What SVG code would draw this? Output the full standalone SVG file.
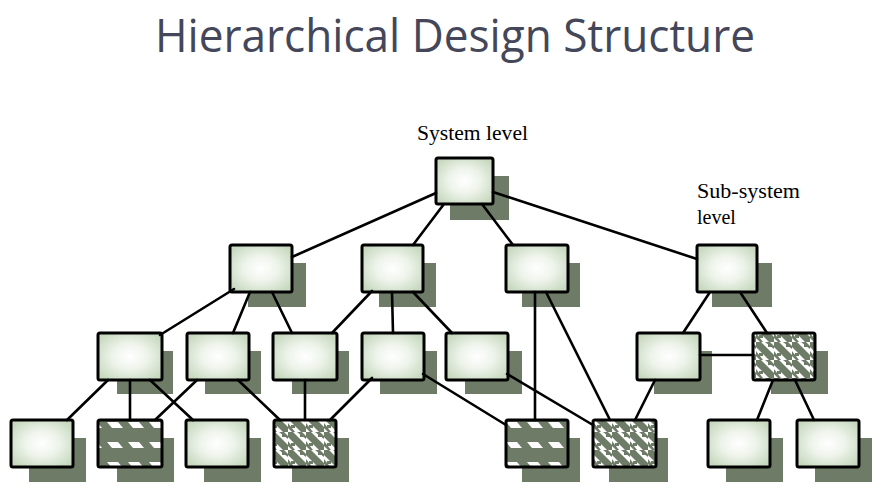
<svg xmlns="http://www.w3.org/2000/svg" width="891" height="496" viewBox="0 0 891 496">
<style>
.title{font-family:"Open Sans","Liberation Sans",sans-serif;font-size:46px;fill:#444759}
.lbl{font-family:"Liberation Serif","Times New Roman",serif;font-size:20px;fill:#000}
.sh{fill:#6d7b67}
.bx{fill:url(#g);stroke:#000;stroke-width:3}
.p1{fill:url(#pa);stroke:#000;stroke-width:3}
.p2{fill:url(#pb);stroke:#000;stroke-width:3}
#edges line{stroke:#000;stroke-width:2.6;stroke-linecap:round}
</style>
<defs>
<radialGradient id="g" cx="0.5" cy="0.5" r="0.6">
<stop offset="0" stop-color="#ffffff"/>
<stop offset="0.45" stop-color="#eef4eb"/>
<stop offset="1" stop-color="#c8d9c0"/>
</radialGradient>
<pattern id="pa" patternUnits="userSpaceOnUse" width="21" height="20" x="0" y="420">
<rect width="21" height="20" fill="#6d7b67"/>
<polygon points="2,2 13,2 18,8 7,8" fill="#fff"/>
</pattern>
<pattern id="pb" patternUnits="userSpaceOnUse" width="18" height="18">
<rect width="18" height="18" fill="#fff"/>
<polygon points="0,0 5,0 18,13 18,18 13,18 0,5" fill="#6d7b67"/>
<polygon points="9,0 14,0 18,4 18,7" fill="#6d7b67"/>
<polygon points="0,9 0,14 4,18 7,18" fill="#6d7b67"/>
<rect x="3" y="11" width="4" height="3" fill="#6d7b67"/>
<rect x="12" y="2" width="4" height="3" fill="#6d7b67"/>
</pattern>
</defs>
<rect width="891" height="496" fill="#fff"/>
<text class="title" x="455" y="52" text-anchor="middle" textLength="600" lengthAdjust="spacingAndGlyphs">Hierarchical Design Structure</text>
<text class="lbl" x="417" y="140" textLength="111" lengthAdjust="spacingAndGlyphs">System level</text>
<text class="lbl" x="697" y="198" textLength="103" lengthAdjust="spacingAndGlyphs">Sub-system</text>
<text class="lbl" x="697" y="224">level</text>

<g id="A"><rect class="sh" x="450" y="176" width="59" height="44"/><rect class="bx" x="436" y="158" width="57" height="46" rx="2"/></g>

<g id="B1"><rect class="sh" x="248" y="263" width="58" height="44"/><rect class="bx" x="230" y="245" width="62" height="47" rx="2"/></g>
<g id="B2"><rect class="sh" x="379" y="263" width="57" height="44"/><rect class="bx" x="362" y="245" width="61" height="47" rx="2"/></g>
<g id="B3"><rect class="sh" x="522" y="263" width="58" height="44"/><rect class="bx" x="506" y="245" width="62" height="47" rx="2"/></g>
<g id="B4"><rect class="sh" x="712" y="263" width="60" height="44"/><rect class="bx" x="697" y="245" width="60" height="47" rx="2"/></g>

<g id="C1"><rect class="sh" x="117" y="351" width="56" height="43"/><rect class="bx" x="98" y="333" width="64" height="47" rx="2"/></g>
<g id="C2"><rect class="sh" x="205" y="351" width="56" height="43"/><rect class="bx" x="187" y="333" width="62" height="47" rx="2"/></g>
<g id="C3"><rect class="sh" x="292" y="351" width="57" height="43"/><rect class="bx" x="273" y="333" width="64" height="47" rx="2"/></g>
<g id="C4"><rect class="sh" x="380" y="351" width="57" height="43"/><rect class="bx" x="362" y="333" width="62" height="47" rx="2"/></g>
<g id="C5"><rect class="sh" x="465" y="351" width="57" height="43"/><rect class="bx" x="446" y="333" width="62" height="47" rx="2"/></g>
<g id="C6"><rect class="sh" x="654" y="351" width="58" height="43"/><rect class="bx" x="637" y="333" width="63" height="47" rx="2"/></g>
<g id="C7"><rect class="sh" x="771" y="351" width="57" height="43"/><rect class="p2" x="753" y="333" width="62" height="47" rx="2"/></g>

<g id="D1"><rect class="sh" x="29" y="438" width="57" height="44"/><rect class="bx" x="11" y="420" width="62" height="47" rx="2"/></g>
<g id="D2"><rect class="sh" x="117" y="438" width="57" height="44"/><rect class="p1" x="98" y="420" width="64" height="47" rx="2"/></g>
<g id="D3"><rect class="sh" x="204" y="438" width="57" height="44"/><rect class="bx" x="186" y="420" width="62" height="47" rx="2"/></g>
<g id="D4"><rect class="sh" x="292" y="438" width="57" height="44"/><rect class="p2" x="274" y="420" width="62" height="47" rx="2"/></g>
<g id="D5"><rect class="sh" x="522" y="438" width="58" height="44"/><rect class="p1" x="506" y="420" width="62" height="47" rx="2"/></g>
<g id="D6"><rect class="sh" x="609" y="438" width="59" height="44"/><rect class="p2" x="593" y="420" width="63" height="47" rx="2"/></g>
<g id="D7"><rect class="sh" x="726" y="438" width="57" height="44"/><rect class="bx" x="708" y="420" width="62" height="47" rx="2"/></g>
<g id="D8"><rect class="sh" x="815" y="438" width="57" height="44"/><rect class="bx" x="797" y="420" width="62" height="47" rx="2"/></g>

<g id="edges">
<line x1="436" y1="193" x2="292" y2="257"/>
<line x1="444" y1="204" x2="413" y2="245"/>
<line x1="482" y1="204" x2="513" y2="245"/>
<line x1="493" y1="192" x2="697" y2="259"/>
<line x1="234" y1="289" x2="160" y2="335"/>
<line x1="250" y1="292" x2="233" y2="333"/>
<line x1="272" y1="292" x2="292" y2="333"/>
<line x1="372" y1="291" x2="332" y2="333"/>
<line x1="392" y1="292" x2="393" y2="333"/>
<line x1="413" y1="292" x2="452" y2="333"/>
<line x1="535" y1="292" x2="535" y2="420"/>
<line x1="546" y1="292" x2="610" y2="420"/>
<line x1="710" y1="292" x2="683" y2="333"/>
<line x1="740" y1="292" x2="767" y2="333"/>
<line x1="700" y1="355" x2="753" y2="355"/>
<line x1="108" y1="380" x2="67" y2="420"/>
<line x1="130" y1="380" x2="130" y2="420"/>
<line x1="150" y1="380" x2="193" y2="420"/>
<line x1="197" y1="380" x2="155" y2="420"/>
<line x1="238" y1="380" x2="280" y2="420"/>
<line x1="305" y1="380" x2="305" y2="420"/>
<line x1="372" y1="378" x2="330" y2="420"/>
<line x1="423" y1="374" x2="506" y2="425"/>
<line x1="507" y1="374" x2="593" y2="425"/>
<line x1="655" y1="380" x2="635" y2="420"/>
<line x1="773" y1="380" x2="757" y2="420"/>
<line x1="795" y1="380" x2="814" y2="420"/>
</g>
</svg>
